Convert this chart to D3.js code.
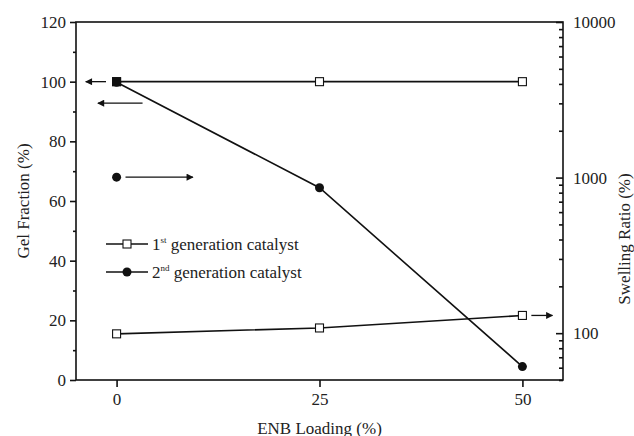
<!DOCTYPE html>
<html>
<head>
<meta charset="utf-8">
<script src="https://cdn.jsdelivr.net/npm/d3@7"></script>
<style>
  body { margin: 0; background: #fff; }
  svg text { font-family: 'Liberation Serif', 'Times New Roman', 'DejaVu Serif', serif !important; fill: #222; }
</style>
</head>
<body>
<svg id="chart" width="634" height="436" font-family="Liberation Serif"></svg>
<script>
// ENB loading (%)
var loading = [0, 25, 50];
// gel fraction (%), left axis
var gel1st = [100, 100, 100];
var gel2nd = [100];
// swelling ratio (%), right log axis
var swell1st = [99, 108, 130];
var swell2nd = [4100, 860, 61];

var xTicks = [0, 25, 50];
var yLeftTicks = [0, 20, 40, 60, 80, 100, 120];
var yRightTicks = [100, 1000, 10000];

var svg = d3.select("#chart");
var pLeft = 76, pRight = 563, pTop = 22, pBottom = 380;

//Scales
var x = d3.scaleLinear().domain([-5, 55]).range([pLeft, pRight]);
var yL = d3.scaleLinear().domain([0, 120]).range([pBottom, pTop]);
var yR = d3.scaleLog().domain([50, 10000]).range([pBottom, pTop]);

//Frame
svg.append("rect")
  .attr("x", pLeft).attr("y", pTop)
  .attr("width", pRight - pLeft).attr("height", pBottom - pTop)
  .attr("fill", "none").attr("stroke", "#111").attr("stroke-width", 1.6);

//Left axis
var gl = svg.append("g").attr("transform", "translate(" + pLeft + ",0)");
gl.call(d3.axisLeft(yL).tickValues(yLeftTicks).tickSize(6).tickPadding(4).tickFormat(d3.format("d")));
gl.append("g").call(d3.axisLeft(yL).tickValues(d3.range(10, 120, 20)).tickSize(3).tickFormat(""));

//Right axis, ticks pointing inward
var gr = svg.append("g").attr("transform", "translate(" + pRight + ",0)");
gr.call(d3.axisRight(yR).tickValues(yRightTicks).tickSize(-7).tickPadding(10).tickFormat(d3.format("d")));
var minors = [];
[10, 100, 1000].forEach(function(b) {
  d3.range(2, 10).forEach(function(m) {
    var v = b * m;
    if (v >= 50 && v <= 10000 && yRightTicks.indexOf(v) < 0) minors.push(v);
  });
});
gr.append("g").call(d3.axisRight(yR).tickValues(minors).tickSize(-4).tickFormat(""));

//Bottom axis
var gb = svg.append("g").attr("transform", "translate(0," + pBottom + ")");
gb.call(d3.axisBottom(x).tickValues(xTicks).tickSize(7).tickPadding(6));

svg.selectAll(".domain").remove();
svg.selectAll("g").attr("font-family", null);
svg.selectAll(".tick line").attr("stroke", "#111").attr("stroke-width", 1.6);
svg.selectAll(".tick text")
  .style("font-size", "17px").attr("fill", "#333");
gr.selectAll(".tick text").attr("x", 10);

//Axis labels
svg.append("text")
  .attr("transform", "translate(29," + ((pTop + pBottom) / 2) + ") rotate(-90)")
  .attr("text-anchor", "middle").style("font-size", "17px")
  .text("Gel Fraction (%)");
svg.append("text")
  .attr("transform", "translate(630," + ((pTop + pBottom) / 2 + 38) + ") rotate(-90)")
  .attr("text-anchor", "middle").style("font-size", "17px")
  .text("Swelling Ratio (%)");
svg.append("text")
  .attr("x", x(25)).attr("y", 434)
  .attr("text-anchor", "middle").style("font-size", "17px")
  .text("ENB Loading (%)");

//Arrow head
svg.append("defs").append("marker")
  .attr("id", "head").attr("viewBox", "0 0 10 10")
  .attr("refX", 9).attr("refY", 5)
  .attr("markerWidth", 10).attr("markerHeight", 7)
  .attr("markerUnits", "userSpaceOnUse")
  .attr("orient", "auto")
  .append("path").attr("d", "M0,0 L10,5 L0,10 z").attr("fill", "#111");

//Lines
function pts(xs, ys, yscale) {
  return xs.slice(0, ys.length).map(function(d, i) { return [x(d), yscale(ys[i])]; });
}
var line = d3.line();
var series = [
  {p: pts(loading, gel1st, yL), kind: "open"},
  {p: pts(loading, swell1st, yR), kind: "open"},
  {p: pts(loading, swell2nd, yR), kind: "filled"}
];
series.forEach(function(s) {
  svg.append("path").attr("d", line(s.p))
    .attr("fill", "none").attr("stroke", "#111").attr("stroke-width", 1.6);
});
series.forEach(function(s) {
  s.p.forEach(function(q) {
    if (s.kind == "open") {
      svg.append("rect").attr("x", q[0] - 4).attr("y", q[1] - 4)
        .attr("width", 8).attr("height", 8)
        .attr("fill", "#fff").attr("stroke", "#111").attr("stroke-width", 1.1);
    } else {
      svg.append("circle").attr("cx", q[0]).attr("cy", q[1]).attr("r", 4.5).attr("fill", "#111");
    }
  });
});
//2nd generation gel fraction (filled square)
pts(loading, gel2nd, yL).forEach(function(q) {
  svg.append("rect").attr("x", q[0] - 4.5).attr("y", q[1] - 4.5)
    .attr("width", 9).attr("height", 9).attr("fill", "#111");
});

//Axis pointer arrows
var arrows = [
  {x0: -1.3, x1: -3.8, y: 100, s: yL},
  {x0: 3.2, x1: -2.3, y: 92.8, s: yL},
  {x0: 1.1, x1: 9.4, y: 68, s: yL},
  {x0: 51.1, x1: 53.7, y: 130, s: yR}
];
arrows.forEach(function(a) {
  svg.append("line")
    .attr("x1", x(a.x0)).attr("x2", x(a.x1))
    .attr("y1", a.s(a.y)).attr("y2", a.s(a.y))
    .attr("stroke", "#111").attr("stroke-width", 1.3)
    .attr("marker-end", "url(#head)");
});
svg.append("circle").attr("cx", x(0)).attr("cy", yL(68)).attr("r", 4.5).attr("fill", "#111");

//Legend
var legend = [
  {ord: "1", sup: "st", kind: "open"},
  {ord: "2", sup: "nd", kind: "filled"}
];
var lg = svg.append("g").attr("transform", "translate(106,244)");
legend.forEach(function(d, i) {
  var g = lg.append("g").attr("transform", "translate(0," + (i * 28) + ")");
  g.append("line").attr("x1", 0).attr("x2", 42).attr("y1", 0).attr("y2", 0)
    .attr("stroke", "#111").attr("stroke-width", 1.4);
  if (d.kind == "open") {
    g.append("rect").attr("x", 17).attr("y", -4).attr("width", 8).attr("height", 8)
      .attr("fill", "#fff").attr("stroke", "#111").attr("stroke-width", 1.1);
  } else {
    g.append("circle").attr("cx", 21).attr("cy", 0).attr("r", 4.5).attr("fill", "#111");
  }
  var t = g.append("text").attr("x", 46).attr("y", 6).style("font-size", "17px");
  t.append("tspan").text(d.ord);
  t.append("tspan").attr("dy", -7).style("font-size", "9px").text(d.sup);
  t.append("tspan").attr("dy", 7).text(" generation catalyst");
});
</script>
</body>
</html>
